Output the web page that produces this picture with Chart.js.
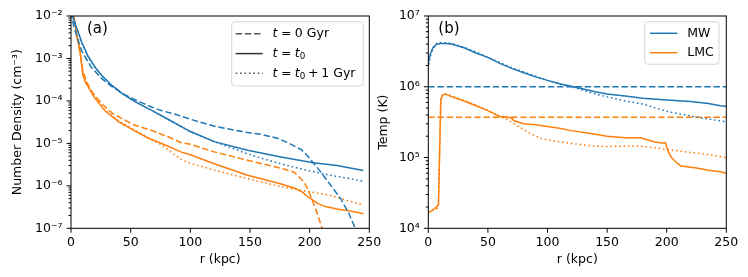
<!DOCTYPE html>
<html>
<head>
<meta charset="utf-8">
<script src="https://cdn.jsdelivr.net/npm/chart.js@4.4.1/dist/chart.umd.min.js"></script>
<style>
body{margin:0;background:#fff;width:748px;height:277px;overflow:hidden;position:relative}
canvas{position:absolute;top:0}
#densCanvas{left:0}
#tempCanvas{left:374px}
</style>
</head>
<body>
<canvas id="densCanvas" width="400" height="277"></canvas>
<canvas id="tempCanvas" width="374" height="277"></canvas>
<script>
// ---- panel (a): number density (cm^-3) vs r (kpc)
var mwDens0R   = [0, 2, 5, 9, 17, 26, 34, 45, 54, 60, 68, 75, 88, 100, 121, 148, 158, 173, 183, 193, 198, 203, 210, 218, 226, 233, 239];
var mwDens0    = [1.26e-2, 6.3e-3, 3.2e-3, 1.5e-3, 6.2e-4, 3.3e-4, 2.2e-4, 1.41e-4, 1.05e-4, 8.9e-5, 7.1e-5, 6.0e-5, 4.8e-5, 3.7e-5, 2.5e-5, 1.8e-5, 1.66e-5, 1.32e-5, 1.0e-5, 7.1e-6, 5.2e-6, 3.5e-6, 2.0e-6, 1.0e-6, 5.0e-7, 2.2e-7, 8.9e-8];
var mwDensNowR = [0, 2, 4, 6, 9, 14, 20, 26, 34, 43, 54, 68, 82, 100, 120, 148, 176, 203, 223, 245];
var mwDensNow  = [1.58e-2, 8.9e-3, 6.0e-3, 4.2e-3, 2.4e-3, 1.17e-3, 6.3e-4, 3.9e-4, 2.35e-4, 1.48e-4, 9.5e-5, 5.9e-5, 3.6e-5, 1.9e-5, 1.1e-5, 6.9e-6, 4.8e-6, 3.5e-6, 3.0e-6, 2.3e-6];
var mwDens1R   = [0, 2, 4, 6, 9, 14, 20, 26, 34, 43, 54, 68, 82, 100, 120, 134, 147, 159, 176, 197, 217, 245];
var mwDens1    = [1.41e-2, 8.5e-3, 5.8e-3, 4.0e-3, 2.35e-3, 1.15e-3, 6.3e-4, 3.9e-4, 2.35e-4, 1.48e-4, 9.5e-5, 5.9e-5, 3.6e-5, 1.9e-5, 1.1e-5, 7.9e-6, 5.8e-6, 4.5e-6, 3.3e-6, 2.35e-6, 1.78e-6, 1.29e-6];

var lmcDens0R   = [1, 3, 5, 7.5, 10, 13, 18, 26, 35, 48, 53, 68, 75, 82, 92, 100, 120, 148, 176, 187, 195, 199, 203, 207, 211];
var lmcDens0    = [1.41e-2, 7.1e-3, 3.2e-3, 1.41e-3, 5.0e-4, 2.8e-4, 1.58e-4, 8.5e-5, 5.0e-5, 3.2e-5, 2.7e-5, 2.0e-5, 1.66e-5, 1.41e-5, 1.05e-5, 9.5e-6, 6.3e-6, 4.0e-6, 2.6e-6, 2.1e-6, 1.26e-6, 7.9e-7, 4.0e-7, 2.0e-7, 8.9e-8];
var lmcDensNowR = [1, 3, 5, 7.5, 10, 12, 15, 20, 28, 40, 53, 65, 80, 92, 100, 120, 148, 174, 187, 194, 199, 207, 214, 224, 233, 245];
var lmcDensNow  = [1.58e-2, 7.9e-3, 3.5e-3, 1.5e-3, 4.0e-4, 2.8e-4, 2.0e-4, 1.17e-4, 6.0e-5, 3.2e-5, 2.0e-5, 1.32e-5, 8.9e-6, 6.3e-6, 5.4e-6, 3.3e-6, 1.78e-6, 1.15e-6, 8.9e-7, 7.1e-7, 5.4e-7, 3.8e-7, 3.2e-7, 2.8e-7, 2.6e-7, 2.2e-7];
var lmcDens1R   = [1, 3, 5, 7.5, 10, 12, 15, 20, 28, 40, 53, 65, 75, 80, 92, 100, 120, 148, 176, 193, 217, 245];
var lmcDens1    = [1.41e-2, 7.6e-3, 3.2e-3, 1.41e-3, 4.5e-4, 3.0e-4, 2.1e-4, 1.2e-4, 6.3e-5, 3.4e-5, 2.1e-5, 1.35e-5, 9.5e-6, 7.6e-6, 4.2e-6, 3.4e-6, 2.35e-6, 1.48e-6, 9.5e-7, 7.9e-7, 6.0e-7, 3.5e-7];

// ---- panel (b): temperature (K) vs r (kpc)
var tempFlatR = [0, 250];
var mwTemp0   = [1.0e6, 1.0e6];
var lmcTemp0  = [3.7e5, 3.7e5];
var mwTempNowR = [0, 1, 2, 4, 7, 10, 15, 20, 30, 40, 50, 60, 70, 80, 90, 100, 110, 120, 130, 140, 150, 165, 180, 200, 220, 235, 245, 250];
var mwTempNow  = [2.14e6, 2.6e6, 3.0e6, 3.6e6, 4.0e6, 4.1e6, 4.1e6, 4.0e6, 3.55e6, 3.0e6, 2.6e6, 2.14e6, 1.82e6, 1.58e6, 1.38e6, 1.23e6, 1.1e6, 1.02e6, 9.3e5, 8.5e5, 7.9e5, 7.4e5, 6.9e5, 6.5e5, 6.2e5, 5.8e5, 5.4e5, 5.3e5];
var mwTemp1R = [0, 1, 2, 4, 7, 10, 15, 20, 30, 40, 50, 60, 70, 80, 90, 100, 110, 120, 130, 140, 150, 165, 180, 200, 215, 230, 240, 250];
var mwTemp1  = [1.78e6, 2.3e6, 2.8e6, 3.5e6, 4.1e6, 4.2e6, 4.2e6, 4.1e6, 3.6e6, 3.1e6, 2.6e6, 2.2e6, 1.86e6, 1.62e6, 1.41e6, 1.23e6, 1.1e6, 1.0e6, 8.9e5, 7.9e5, 7.2e5, 6.3e5, 5.7e5, 4.5e5, 4.0e5, 3.6e5, 3.4e5, 3.2e5];
var lmcTempNowR = [0, 3, 7.5, 8.5, 10.5, 12, 14, 20, 30, 40, 50, 60, 67, 70, 72, 80, 90, 100, 110, 120, 135, 150, 165, 178, 190, 196, 199, 201, 204, 208, 212, 225, 235, 245, 250];
var lmcTempNow  = [1.66e4, 1.78e4, 2.04e4, 2.2e4, 6.5e5, 7.6e5, 7.9e5, 7.2e5, 6.3e5, 5.4e5, 4.6e5, 3.8e5, 3.7e5, 3.6e5, 3.3e5, 3.0e5, 2.9e5, 2.75e5, 2.6e5, 2.4e5, 2.2e5, 2.0e5, 1.9e5, 1.9e5, 1.66e5, 1.6e5, 1.62e5, 1.25e5, 1.0e5, 8.5e4, 7.6e4, 7.1e4, 6.6e4, 6.3e4, 6.0e4];
var lmcTemp1R = [0, 3, 7.5, 8.5, 10.5, 12, 14, 20, 30, 40, 50, 60, 67, 75, 85, 95, 105, 120, 135, 150, 165, 180, 205, 220, 235, 250];
var lmcTemp1  = [1.66e4, 1.8e4, 1.9e4, 2.0e4, 6.8e5, 7.8e5, 8.0e5, 7.4e5, 6.4e5, 5.5e5, 4.6e5, 3.8e5, 3.4e5, 2.8e5, 2.2e5, 1.85e5, 1.72e5, 1.58e5, 1.48e5, 1.43e5, 1.45e5, 1.44e5, 1.27e5, 1.18e5, 1.1e5, 1.0e5];

// axis ticks
var radiusTicks = [0, 50, 100, 150, 200, 250];
var densDecades = [1e-7, 1e-6, 1e-5, 1e-4, 1e-3, 1e-2];
var tempDecades = [1e4, 1e5, 1e6, 1e7];

var BLUE = '#1f77b4', ORANGE = '#ff7f0e';
var FONT = 'DejaVu Sans';
var dashes = {solid: [], dashed: [6.4, 2.8], dotted: [1.6, 2.8]};

Chart.defaults.font.family = FONT;
Chart.defaults.font.size = 12.5;
Chart.defaults.color = '#000';

function isDecade(v) {
	var l = Math.log10(v);
	return Math.abs(l - Math.round(l)) < 1e-6;
}

function sup(n) {
	var map = {'-': '\u207b', '0': '\u2070', '1': '\u00b9', '2': '\u00b2', '3': '\u00b3', '4': '\u2074', '5': '\u2075', '6': '\u2076', '7': '\u2077', '8': '\u2078', '9': '\u2079'};
	return String(n).split('').map(function(c){ return map[c]; }).join('');
}

function logTicks(decades) {
	var out = [];
	decades.forEach(function(d, i){
		out.push({value: d});
		if (i < decades.length - 1) {
			for (var k = 2; k < 10; k++) out.push({value: k * d});
		}
	});
	return out;
}

function series(r, v, color, style) {
	return {
		data: r.map(function(x, i){ return {x: x, y: v[i]}; }),
		borderColor: color,
		borderWidth: 1.5,
		borderDash: dashes[style],
		pointRadius: 0,
		tension: 0,
		fill: false,
		clip: 0
	};
}

// draws spines, tick marks, panel label and the legend
var decoPlugin = {
	id: 'deco',
	afterDraw: function(chart, args, opts) {
		var ctx = chart.ctx, a = chart.chartArea;
		var xs = chart.scales.x, ys = chart.scales.y;
		ctx.save();
		ctx.strokeStyle = '#000';
		ctx.lineWidth = 1;
		ctx.setLineDash([]);
		ctx.strokeRect(a.left, a.top, a.right - a.left, a.bottom - a.top);
		ctx.beginPath();
		xs.ticks.forEach(function(t){
			var p = xs.getPixelForValue(t.value);
			ctx.moveTo(p, a.bottom); ctx.lineTo(p, a.bottom + 4.4);
		});
		ys.ticks.forEach(function(t){
			var p = ys.getPixelForValue(t.value);
			var len = isDecade(t.value) ? 4.4 : 2.5;
			ctx.moveTo(a.left, p); ctx.lineTo(a.left - len, p);
		});
		ctx.stroke();

		// panel label
		ctx.fillStyle = '#000';
		ctx.font = '15px ' + FONT;
		ctx.textBaseline = 'middle';
		ctx.textAlign = 'left';
		ctx.fillText(opts.label, a.left + opts.labelDx, 29.5);

		// legend
		var L = opts.legend;
		ctx.beginPath();
		ctx.roundRect(L.box[0], L.box[1], L.box[2] - L.box[0], L.box[3] - L.box[1], 3);
		ctx.fillStyle = 'rgba(255,255,255,0.8)';
		ctx.fill();
		ctx.strokeStyle = '#d6d6d6';
		ctx.lineWidth = 1;
		ctx.stroke();
		L.items.forEach(function(it, i){
			var y = L.rows[i];
			ctx.beginPath();
			ctx.strokeStyle = it.color;
			ctx.lineWidth = 1.5;
			ctx.setLineDash(dashes[it.style]);
			ctx.moveTo(L.line[0], y); ctx.lineTo(L.line[1], y);
			ctx.stroke();
			ctx.setLineDash([]);
			var x = L.textX, size = 12.5;
			ctx.fillStyle = '#000';
			it.runs.forEach(function(run){
				if (run.gap) { x += run.gap * size; return; }
				var fs = run.sub ? size * 0.7 : size;
				ctx.font = (run.it ? 'italic ' : '') + fs + 'px ' + FONT;
				ctx.fillText(run.s, x, y + (run.sub ? 3 : 0));
				x += ctx.measureText(run.s).width;
			});
		});
		ctx.restore();
	}
};

function makeChart(id, datasets, yMin, yMax, decades, yTitle, yWidth, yTitlePad, padRight, deco) {
	return new Chart(document.getElementById(id), {
		type: 'line',
		data: {datasets: datasets},
		plugins: [decoPlugin],
		options: {
			responsive: false,
			animation: false,
			devicePixelRatio: 1,
			layout: {padding: {top: 15, right: padRight, left: 0, bottom: 0}},
			plugins: {legend: {display: false}, tooltip: {enabled: false}, deco: deco},
			scales: {
				x: {
					type: 'linear', min: 0, max: 250,
					afterBuildTicks: function(s){ s.ticks = radiusTicks.map(function(v){ return {value: v}; }); },
					afterFit: function(s){ s.height = 48.7; },
					grid: {display: false, drawTicks: false},
					border: {display: false},
					ticks: {padding: 6.7, autoSkip: false, maxRotation: 0},
					title: {display: true, text: 'r (kpc)', padding: {top: 0, bottom: 9.5}}
				},
				y: {
					type: 'logarithmic', min: yMin, max: yMax,
					afterBuildTicks: function(s){ s.ticks = logTicks(decades); },
					afterFit: function(s){ s.width = yWidth; },
					grid: {display: false, drawTicks: false},
					border: {display: false},
					ticks: {
						padding: 8.5, autoSkip: false,
						callback: function(v){ return isDecade(v) ? '10' + sup(Math.round(Math.log10(v))) : ''; }
					},
					title: {display: true, text: yTitle, padding: {top: yTitlePad, bottom: 0}}
				}
			}
		}
	});
}

var legendA = {
	box: [231.7, 21.7, 363.3, 86],
	line: [235.7, 262.7],
	textX: 272.5,
	rows: [33.7, 53.6, 73.3],
	items: [
		{color: '#555', style: 'dashed', runs: [{s: 't', it: true}, {gap: 0.28}, {s: '='}, {gap: 0.28}, {s: '0'}, {s: ' Gyr'}]},
		{color: '#333', style: 'solid', runs: [{s: 't', it: true}, {gap: 0.28}, {s: '='}, {gap: 0.28}, {s: 't', it: true}, {s: '0', sub: true}]},
		{color: '#555', style: 'dotted', runs: [{s: 't', it: true}, {gap: 0.28}, {s: '='}, {gap: 0.28}, {s: 't', it: true}, {s: '0', sub: true}, {gap: 0.22}, {s: '+'}, {gap: 0.22}, {s: '1'}, {s: ' Gyr'}]}
	]
};

var legendB = {
	box: [270.7, 21.7, 345, 64.3],
	line: [276, 303.3],
	textX: 313.3,
	rows: [33.3, 52.7],
	items: [
		{color: BLUE, style: 'solid', runs: [{s: 'MW'}]},
		{color: ORANGE, style: 'solid', runs: [{s: 'LMC'}]}
	]
};

makeChart('densCanvas', [
	series(mwDens0R, mwDens0, BLUE, 'dashed'),
	series(mwDensNowR, mwDensNow, BLUE, 'solid'),
	series(mwDens1R, mwDens1, BLUE, 'dotted'),
	series(lmcDens0R, lmcDens0, ORANGE, 'dashed'),
	series(lmcDensNowR, lmcDensNow, ORANGE, 'solid'),
	series(lmcDens1R, lmcDens1, ORANGE, 'dotted')
], 1e-7, 1e-2, densDecades, 'Number Density (cm\u207b\u00b3)', 71, 9.8, 30.7,
	{label: '(a)', labelDx: 16, legend: legendA});

makeChart('tempCanvas', [
	series(tempFlatR, mwTemp0, BLUE, 'dashed'),
	series(mwTempNowR, mwTempNow, BLUE, 'solid'),
	series(mwTemp1R, mwTemp1, BLUE, 'dotted'),
	series(tempFlatR, lmcTemp0, ORANGE, 'dashed'),
	series(lmcTempNowR, lmcTempNow, ORANGE, 'solid'),
	series(lmcTemp1R, lmcTemp1, ORANGE, 'dotted')
], 1e4, 1e7, tempDecades, 'Temp (K)', 54.3, 2.5, 21.7,
	{label: '(b)', labelDx: 10, legend: legendB});
</script>
</body>
</html>
